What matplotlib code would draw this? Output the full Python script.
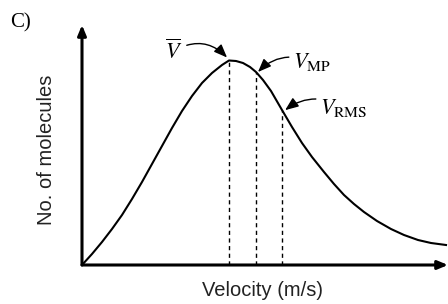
import matplotlib.pyplot as plt

plt.rcParams["mathtext.fontset"] = "stix"

# curve (arbitrary units, origin at the axes corner)
velocity = [0, 10, 20, 30, 40, 50, 60, 70, 80, 90, 100, 110, 120, 130, 140,
            147, 154, 161, 168, 174, 181, 189, 200, 210, 220, 230, 242, 252,
            262, 272, 282, 295, 309, 322, 336, 349, 364]
molecules = [0, 11, 23, 36, 50, 66, 83, 101, 119, 137, 154, 169, 182, 192,
             200, 204.5, 204, 202, 198, 193, 185, 174, 155, 138, 122, 108, 93,
             81, 70, 61, 53, 44, 36, 30, 25, 22, 20]

# characteristic speeds and the height of the curve there
speed_names = ["mean", "mp", "rms"]
speed_x = [147, 174, 200]
speed_y = [204.5, 193, 155]

fig = plt.figure(figsize=(4.48, 3.04), dpi=100)
ax = fig.add_axes([82 / 448, 39 / 304, 366 / 448, 240 / 304])
ax.set_xlim(0, 366)
ax.set_ylim(0, 240)
ax.axis("off")

ax.plot(velocity, molecules, color="black", lw=1.5, solid_joinstyle="round")
ax.vlines(speed_x, 0, speed_y, colors="black", linestyles=(0, (3, 2.5)), lw=1.0)

# axes drawn as arrows
arrow = dict(arrowstyle="-|>,head_length=0.6,head_width=0.25", color="black", lw=2.2,
             shrinkA=0, shrinkB=0)
ax.annotate("", xy=(0, 1), xytext=(0, 0), xycoords="axes fraction", arrowprops=arrow)
ax.annotate("", xy=(1, 0), xytext=(0, 0), xycoords="axes fraction", arrowprops=arrow)

label_font = dict(fontsize=14.5, family="Liberation Sans", color="#222222")
fig.text(263 / 448, 1 - 290 / 304, "Velocity (m/s)", ha="center", va="center", **label_font)
fig.text(46 / 448, 1 - 150 / 304, "No. of molecules", ha="center", va="center",
         rotation=90, **label_font)
fig.text(10 / 448, 1 - 23 / 304, "C)", ha="left", va="center", fontsize=15,
         family="Liberation Serif")

curved = dict(arrowstyle="-|>,head_length=0.5,head_width=0.2", color="black", lw=1.0,
              shrinkA=1, shrinkB=1)
ax.annotate(r"$\overline{V}$", xy=(speed_x[0] - 1, speed_y[0] + 2), xytext=(92, 214),
            ha="center", va="center", fontsize=16,
            arrowprops=dict(connectionstyle="arc3,rad=-0.4", **curved))
ax.annotate(r"$V_{\mathrm{MP}}$", xy=(speed_x[1] + 1, speed_y[1] - 1), xytext=(211, 203),
            ha="left", va="center", fontsize=16,
            arrowprops=dict(connectionstyle="arc3,rad=0.35", **curved))
ax.annotate(r"$V_{\mathrm{RMS}}$", xy=(speed_x[2] + 2, speed_y[2] - 1), xytext=(238, 157),
            ha="left", va="center", fontsize=16,
            arrowprops=dict(connectionstyle="arc3,rad=0.35", **curved))

fig.savefig("out.png", dpi=100)
